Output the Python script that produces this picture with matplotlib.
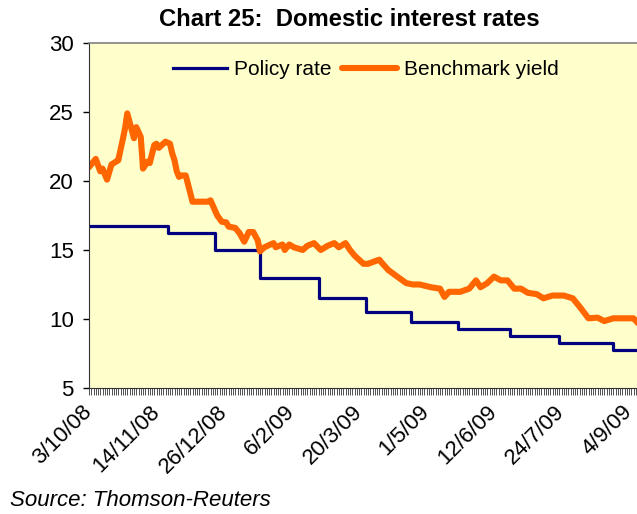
import matplotlib
matplotlib.use("Agg")
import matplotlib.pyplot as plt
import numpy as np

plt.rcParams["font.family"] = ["Liberation Sans", "DejaVu Sans"]

# x positions are business-day counts from 3/10/08
tick_pos = [0, 30, 60, 90, 120, 150, 180, 210, 240]
tick_labels = ["3/10/08", "14/11/08", "26/12/08", "6/2/09", "20/3/09",
               "1/5/09", "12/6/09", "24/7/09", "4/9/09"]

# policy rate: day index where each level starts
policy_day = [0, 35, 56, 76, 102, 123, 143, 164, 187, 209, 233, 246]
policy_rate = [16.75, 16.25, 15.0, 13.0, 11.5, 10.5, 9.75, 9.25, 8.75, 8.25, 7.75, 7.75]

# benchmark yield
yield_day = [0, 3, 5, 6, 8, 10, 12, 13, 15, 16, 17, 19, 20, 21, 23, 24, 26, 27,
             29, 30, 31, 34, 36, 37, 38, 39, 40, 41, 43, 46, 53, 54, 57, 59, 61,
             62, 65, 67, 69, 71, 73, 75, 76, 78, 82, 83, 86, 87, 89, 91, 95, 97,
             100, 103, 106, 109, 111, 114, 116, 118, 120, 122, 124, 129, 130,
             133, 137, 141, 144, 147, 152, 156, 158, 160, 165, 169, 172, 174,
             177, 180, 183, 186, 189, 192, 195, 199, 202, 206, 211, 215, 218,
             222, 226, 229, 233, 242, 244]
yield_val = [21.0, 21.6, 20.7, 20.9, 20.1, 21.2, 21.4, 21.5, 23.0, 23.8, 24.9,
             23.7, 23.1, 23.9, 23.2, 20.9, 21.4, 21.3, 22.6, 22.7, 22.4, 22.85,
             22.7, 22.0, 21.5, 20.7, 20.3, 20.4, 20.4, 18.5, 18.5, 18.6, 17.5,
             17.05, 17.0, 16.7, 16.6, 16.2, 15.6, 16.3, 16.3, 15.7, 14.9, 15.2,
             15.5, 15.2, 15.4, 15.0, 15.4, 15.2, 15.0, 15.3, 15.5, 15.0, 15.3,
             15.5, 15.2, 15.5, 15.0, 14.6, 14.3, 14.0, 14.0, 14.3, 14.1, 13.55,
             13.07, 12.6, 12.5, 12.5, 12.3, 12.2, 11.6, 11.97, 11.97, 12.2, 12.8,
             12.3, 12.6, 13.07, 12.8, 12.8, 12.2, 12.2, 11.9, 11.8, 11.5, 11.7,
             11.7, 11.5, 10.9, 10.05, 10.1, 9.85, 10.05, 10.05, 9.7]

fig = plt.figure(figsize=(6.37, 5.14), dpi=100)
# plot area runs past the right edge of the picture
ax = fig.add_axes([89 / 637, 126 / 514, 553.5 / 637, 345 / 514])
ax.set_facecolor("#FFFFCC")

ax.step(policy_day, policy_rate, where="post", color="#000080", lw=2.3,
        label="Policy rate")
ax.plot(yield_day, yield_val, color="#FF6600", lw=4.4, solid_joinstyle="round",
        solid_capstyle="round", label="Benchmark yield")

ax.set_xlim(0, 246)
ax.set_ylim(5, 30)
ax.set_yticks([5, 10, 15, 20, 25, 30])
ax.tick_params(axis="y", labelsize=16, length=4, width=1, pad=7)
ax.set_xticks(tick_pos)
ax.set_xticklabels(tick_labels, rotation=45, ha="right", va="center",
                   rotation_mode="anchor", fontsize=16)
ax.set_xticks(np.arange(0, 246), minor=True)
ax.tick_params(axis="x", which="both", length=5, width=0.6, pad=10, color="#333333")

ax.spines["right"].set_visible(False)
ax.spines["top"].set_color("#808080")
ax.spines["top"].set_linewidth(1.2)
ax.spines["left"].set_color("#333333")
ax.spines["bottom"].set_color("#333333")

ax.legend(loc="center", bbox_to_anchor=(0.5, 0.922), ncol=2, frameon=False,
          fontsize=15, handlelength=2.6, handletextpad=0.35, columnspacing=0.5)

fig.text(349 / 637, 1 - 19 / 514, "Chart 25:  Domestic interest rates",
         ha="center", va="center", fontsize=17.2, fontweight="bold")
fig.text(10 / 637, 3 / 514, "Source: Thomson-Reuters", ha="left", va="bottom",
         fontsize=16, style="italic")

fig.savefig("out.png", dpi=100)
